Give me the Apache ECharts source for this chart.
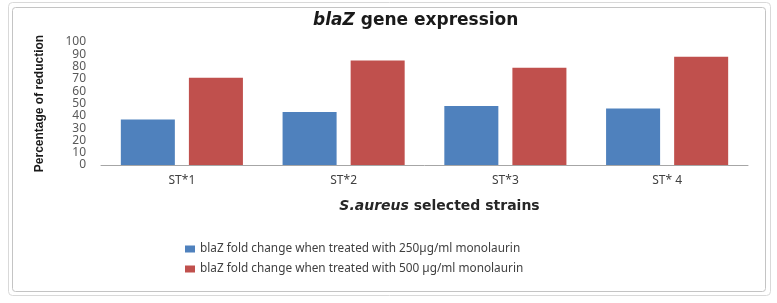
<!DOCTYPE html>
<html>
<head>
<meta charset="utf-8">
<script src="https://cdn.jsdelivr.net/npm/echarts@6/dist/echarts.min.js"></script>
<style>
  html, body { margin: 0; padding: 0; background: #fff; }
  #chart { width: 777px; height: 303px; }
</style>
</head>
<body>
<div id="chart"></div>
<script>
// data
const strains = ['ST*1', 'ST*2', 'ST*3', 'ST* 4'];
const low = [37, 43, 48, 46];    // 250 µg/ml
const high = [71, 85, 79, 88];   // 500 µg/ml
const seriesNames = [
  'blaZ fold change when treated with 250µg/ml monolaurin',
  'blaZ fold change when treated with 500 µg/ml monolaurin'
];

const myChart = echarts.init(document.getElementById('chart'));

let option = {
  animation: false,
  backgroundColor: '#fff',
  color: ['#4F81BD', '#C0504D'],
  title: {
    text: '{i|blaZ} gene expression',
    left: 313,
    top: 12,
    padding: 0,
    textStyle: {
      fontFamily: 'DejaVu Sans',
      fontSize: 17,
      fontWeight: 'bold',
      color: '#1a1a1a',
      rich: {
        i: { fontFamily: 'DejaVu Sans', fontSize: 17, fontWeight: 'bold', fontStyle: 'italic', color: '#1a1a1a' }
      }
    }
  },
  legend: {
    orient: 'vertical',
    left: 185,
    top: 243,
    padding: 0,
    itemWidth: 10,
    itemHeight: 7,
    itemGap: 8,
    icon: 'rect',
    data: seriesNames,
    textStyle: { fontFamily: 'Noto Sans', fontSize: 11.8, color: '#404040' }
  },
  grid: { left: 101, right: 29, top: 42, bottom: 138 },
  xAxis: {
    type: 'category',
    data: strains,
    name: '{i|S.aureus} selected strains',
    nameLocation: 'middle',
    nameGap: 34,
    nameTextStyle: {
      fontFamily: 'DejaVu Sans',
      fontSize: 14,
      fontWeight: 'bold',
      color: '#262626',
      padding: [0, 0, 0, 30],
      rich: {
        i: { fontFamily: 'DejaVu Sans', fontSize: 14, fontWeight: 'bold', fontStyle: 'italic', color: '#262626' }
      }
    },
    axisLine: { lineStyle: { color: '#a6a6a6', width: 1 } },
    axisTick: { show: false },
    axisLabel: { margin: 10, fontFamily: 'Noto Sans', fontSize: 12, color: '#404040' }
  },
  yAxis: {
    type: 'value',
    min: 0,
    max: 100,
    interval: 10,
    name: 'Percentage of reduction',
    nameLocation: 'middle',
    nameGap: 55,
    nameTextStyle: { fontFamily: 'Liberation Sans', fontSize: 12, fontWeight: 'bold', color: '#1a1a1a' },
    axisLine: { show: false },
    axisTick: { show: false },
    splitLine: { show: false },
    axisLabel: { margin: 15, fontFamily: 'Noto Sans', fontSize: 12, color: '#595959' }
  },
  graphic: [
    { type: 'rect', shape: { x: 8.5, y: 2.5, width: 762, height: 293, r: 4 }, style: { fill: null, stroke: '#d9d9d9', lineWidth: 1 }, silent: true },
    { type: 'rect', shape: { x: 12.5, y: 7.5, width: 753, height: 284, r: 3 }, style: { fill: null, stroke: '#c4c4c4', lineWidth: 1 }, silent: true }
  ],
  series: [
    { name: seriesNames[0], type: 'bar', data: low, barWidth: '33.4%', barGap: '26%' },
    { name: seriesNames[1], type: 'bar', data: high, barWidth: '33.4%', barGap: '26%' }
  ]
};

myChart.setOption(option);
</script>
</body>
</html>
